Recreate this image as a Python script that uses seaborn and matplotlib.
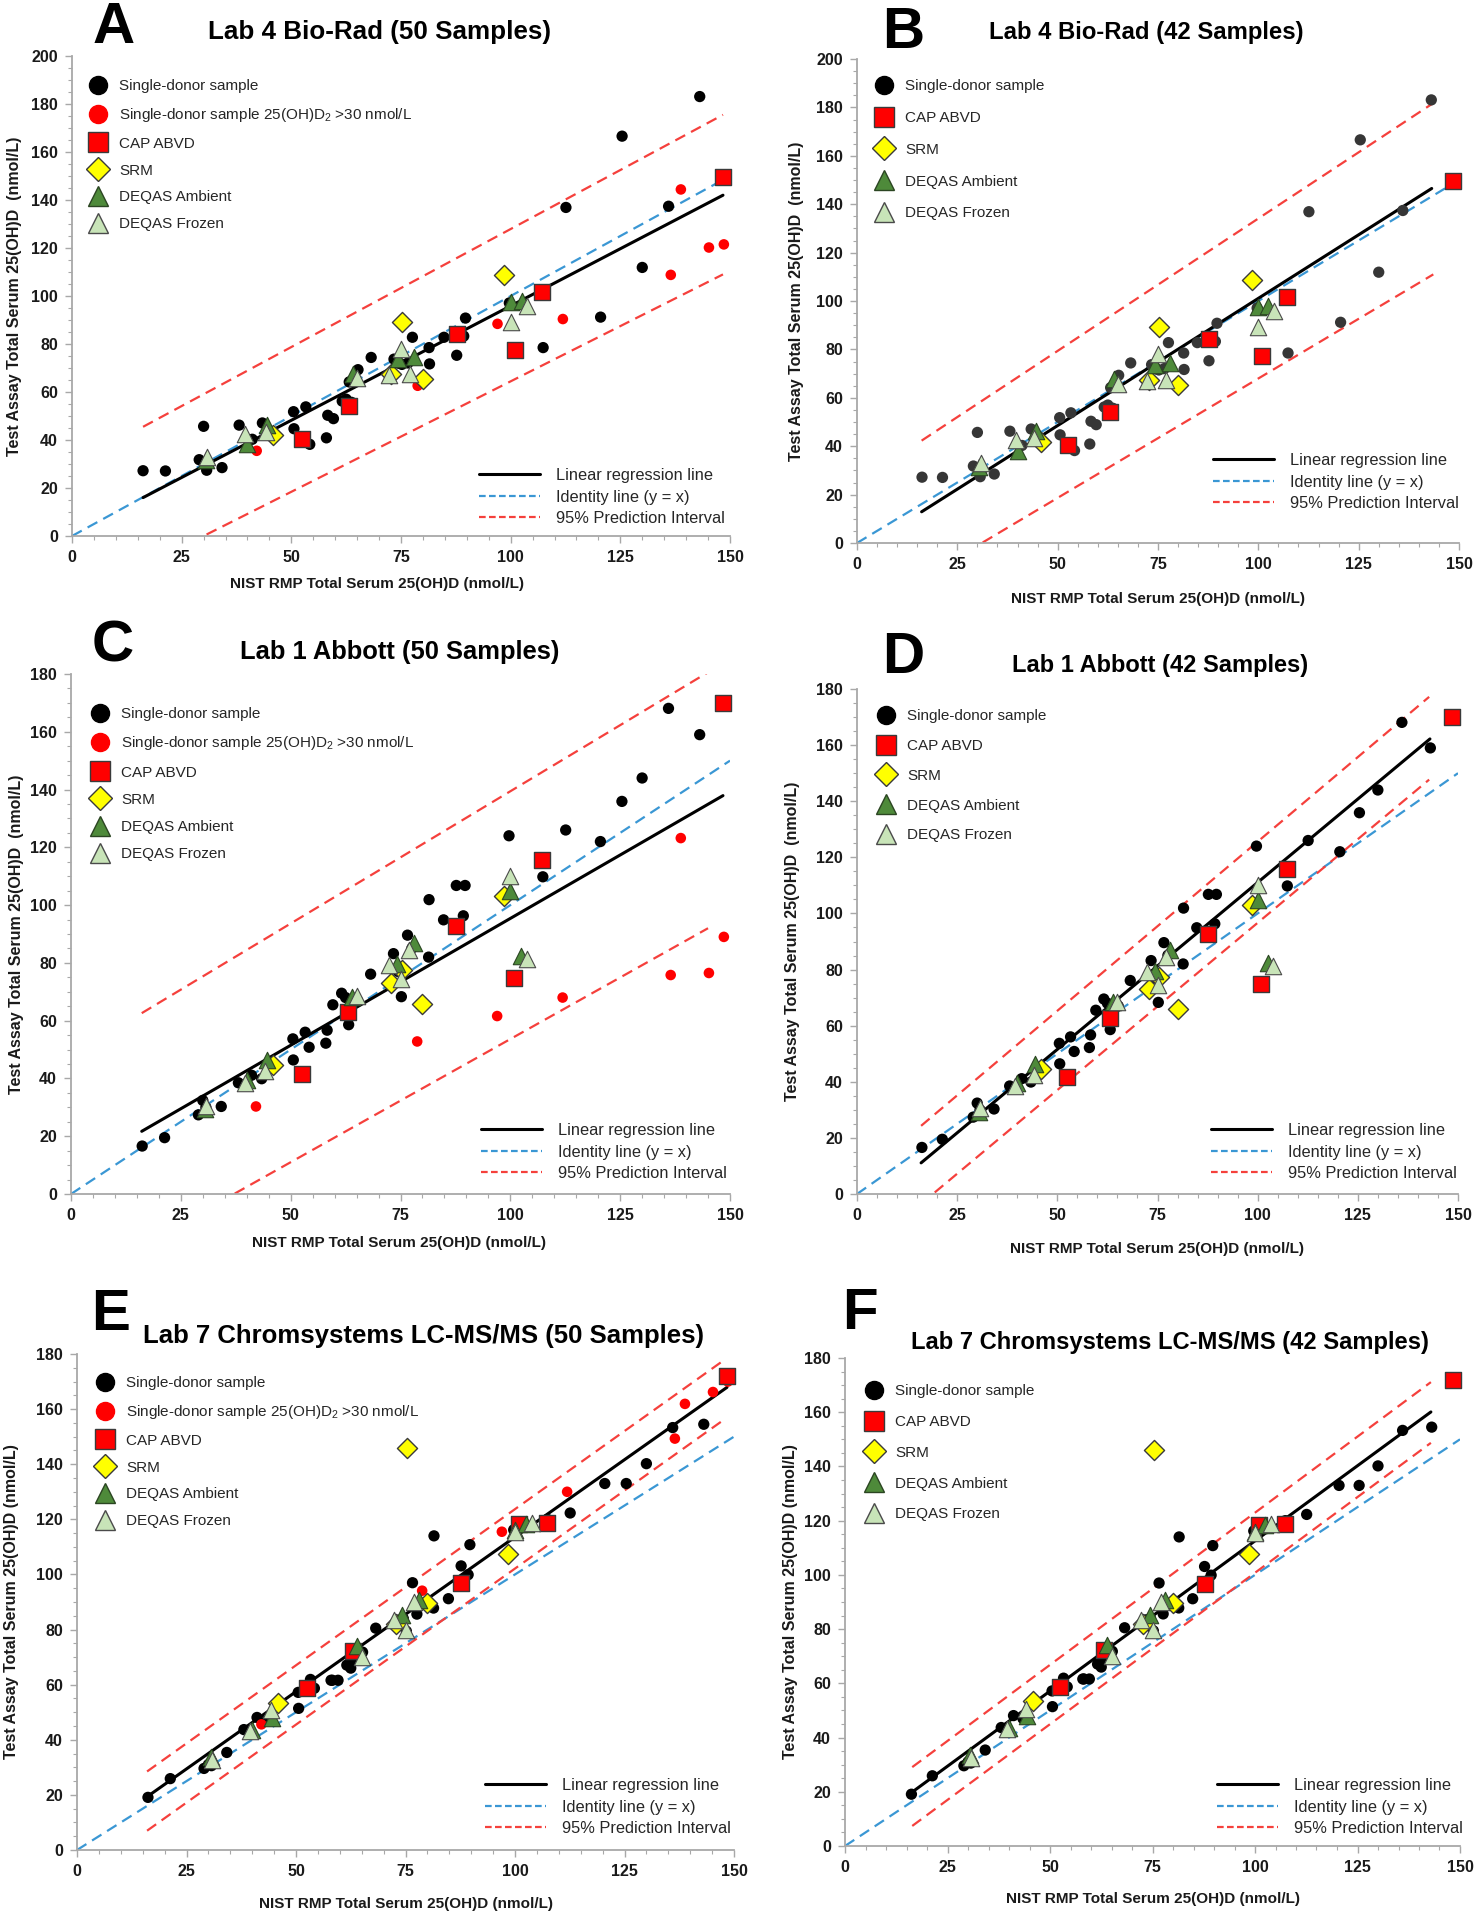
import matplotlib
matplotlib.use("Agg")
import matplotlib.pyplot as plt
import seaborn as sns
from matplotlib.lines import Line2D
from matplotlib.ticker import MultipleLocator

sns.set_theme(style="ticks")
plt.rcParams["font.family"] = ["Liberation Sans", "DejaVu Sans"]
plt.rcParams["mathtext.fontset"] = "custom"
plt.rcParams["mathtext.rm"] = "Liberation Sans"
plt.rcParams["mathtext.default"] = "rm"
NARROW = ["Liberation Sans Narrow", "Liberation Sans", "DejaVu Sans"]

# ---------------- data ----------------
donor_x = [16.2, 21.3, 29.0, 30.0, 30.7, 34.2, 38.1, 41.1, 43.4, 50.5,
           50.6, 53.3, 54.2, 58.0, 58.3, 59.6, 61.6, 62.5, 63.2, 63.7,
           65.2, 68.2, 73.4, 74.5, 75.2, 76.6, 77.6, 81.4, 81.5, 84.8,
           87.7, 89.3, 89.7, 99.7, 107.4, 112.6, 120.5, 125.4, 130.0, 136.0,
           143.1]
donor_y_biorad = [27.2, 27.1, 31.8, 45.7, 27.4, 28.5, 46.2, 40.3, 47.1, 51.8,
                  44.7, 53.8, 38.2, 40.9, 50.3, 48.9, 56.2, 57.0, 64.2, 55.7,
                  69.3, 74.4, 73.7, 72.0, 71.5, 72.1, 82.8, 78.5, 71.7, 82.8,
                  75.3, 83.3, 90.8, 97.1, 78.5, 136.9, 91.2, 166.6, 111.9, 137.4,
                  183.1]
donor_y_abbott = [16.6, 19.5, 27.4, 32.4, 30.0, 30.3, 38.5, 41.1, 39.9, 53.7,
                  46.4, 56.0, 50.8, 52.2, 56.7, 65.5, 69.5, 68.0, 58.6, 62.6,
                  67.0, 76.1, 83.2, 77.0, 68.3, 89.6, 85.1, 82.0, 101.9, 94.9,
                  106.8, 96.3, 106.8, 124.0, 109.8, 126.0, 122.0, 135.9, 144.0, 168.1,
                  159.0]
donor_y_chrom = [19.1, 25.9, 29.6, 31.0, 30.6, 35.4, 43.7, 48.1, 47.0, 57.2,
                 51.4, 61.9, 58.7, 61.6, 61.6, 61.6, 67.1, 66.0, 69.2, 69.5,
                 71.8, 80.5, 83.4, 84.0, 79.4, 97.0, 85.6, 87.8, 114.0, 91.2,
                 103.1, 99.9, 110.8, 116.2, 120.0, 122.3, 133.0, 133.0, 140.2, 153.3,
                 154.5]

d2_x = [42.1, 78.8, 97.0, 111.9, 136.5, 138.8, 145.2, 148.6]
d2_y_biorad = [35.5, 62.6, 88.4, 90.4, 108.8, 144.4, 120.2, 121.5]
d2_y_abbott = [30.3, 52.8, 61.6, 68.0, 75.8, 123.2, 76.5, 89.0]
d2_y_chrom = [45.6, 94.1, 115.5, 130.0, 149.3, 161.9, 166.2, 170.0]

cap_x = [52.5, 63.1, 87.7, 100.9, 107.2, 148.4]
cap_y_biorad = [40.3, 54.1, 84.1, 77.4, 101.6, 149.7]
cap_y_abbott = [41.6, 62.9, 92.7, 74.8, 115.7, 169.9]
cap_y_chrom = [58.7, 72.2, 96.8, 118.4, 118.7, 172.0]

srm_x = [45.9, 72.8, 75.3, 80.0, 98.5]
srm_y_biorad = [41.9, 67.4, 89.2, 65.3, 108.8]
srm_y_abbott = [44.6, 72.9, 77.4, 65.9, 103.1]
srm_y_chrom = [53.4, 82.0, 146.0, 89.7, 107.6]

amb_x = [30.5, 40.0, 44.5, 64.0, 74.3, 78.0, 100.0, 102.5]
amb_y_biorad = [31.5, 38.2, 46.2, 67.7, 73.7, 74.5, 97.6, 97.9]
amb_y_abbott = [29.3, 39.6, 46.5, 68.3, 79.6, 87.0, 104.9, 82.4]
amb_y_chrom = [33.6, 43.4, 48.0, 74.0, 85.2, 90.7, 116.0, 118.4]

frz_x = [30.8, 39.5, 44.2, 65.0, 72.3, 75.0, 77.0, 100.0, 103.8]
frz_y_biorad = [33.0, 42.4, 43.5, 65.8, 67.0, 77.9, 67.4, 89.2, 96.0]
frz_y_abbott = [30.5, 38.5, 42.5, 68.6, 79.1, 74.4, 84.4, 110.0, 81.2]
frz_y_chrom = [32.5, 43.2, 50.7, 70.0, 83.4, 79.8, 90.0, 115.5, 118.7]

# regression lines and 95% prediction intervals (end points)
fit_x_A, fit_y_A = [16.2, 148.4], [16.0, 142.0]
pi_x_A, pi_hi_A, pi_lo_A = [16.2, 148.4], [45.5, 175.5], [-12.7, 109.0]
fit_x_B, fit_y_B = [16.1, 143.2], [12.9, 146.5]
pi_x_B, pi_hi_B, pi_lo_B = [16.1, 143.6], [42.3, 181.8], [-14.8, 111.0]
fit_x_C, fit_y_C = [16.1, 148.4], [21.7, 137.9]
pi_x_C, pi_hi_C, pi_lo_C = [16.1, 145.0], [62.6, 180.6], [-17.9, 92.0]
fit_x_D, fit_y_D = [16.0, 143.0], [11.1, 162.2]
pi_x_D, pi_hi_D, pi_lo_D = [16.0, 142.8], [24.3, 177.2], [-3.5, 147.7]
fit_x_E, fit_y_E = [15.8, 148.4], [19.1, 167.9]
pi_x_E, pi_hi_E, pi_lo_E = [16.0, 148.0], [28.5, 178.1], [7.0, 156.5]
fit_x_F, fit_y_F = [16.4, 142.9], [19.9, 160.1]
pi_x_F, pi_hi_F, pi_lo_F = [16.4, 142.9], [29.1, 171.1], [7.4, 148.7]
ident_end = [148.5, 150.0, 150.0, 150.0, 150.0, 150.0]

letters = ["A", "B", "C", "D", "E", "F"]
titles = ["Lab 4 Bio-Rad (50 Samples)", "Lab 4 Bio-Rad (42 Samples)",
          "Lab 1 Abbott (50 Samples)", "Lab 1 Abbott (42 Samples)",
          "Lab 7 Chromsystems LC-MS/MS (50 Samples)",
          "Lab 7 Chromsystems LC-MS/MS (42 Samples)"]
ylabels = ["Test Assay Total Serum 25(OH)D  (nmol/L)"] * 4 + \
          ["Test Assay Total Serum 25(OH)D (nmol/L)"] * 2
xlabel = "NIST RMP Total Serum 25(OH)D (nmol/L)"
y_max = [200, 200, 180, 180, 180, 180]
legend_labels = ["Single-donor sample", r"Single-donor sample 25(OH)D$_2$ >30 nmol/L",
                 "CAP ABVD", "SRM", "DEQAS Ambient", "DEQAS Frozen"]
line_labels = ["Linear regression line", "Identity line (y = x)", "95% Prediction Interval"]

# ---------------- layout ----------------
W, H = 1480, 1920
fig = plt.figure(figsize=(W / 100, H / 100), dpi=100)

# axes rectangles in pixels: left, right, top, bottom
rects = [(72, 730, 56, 536), (857, 1459, 59, 543),
         (71, 730, 674, 1194), (857, 1458, 689, 1194),
         (77, 734, 1354, 1850), (845, 1460, 1358, 1846)]
letter_pos = [(114, 28), (903, 33), (113, 647), (903, 658), (111, 1315), (860, 1314)]
title_pos = [(380, 32), (1146, 33), (400, 652), (1160, 665), (423, 1336), (1170, 1342)]
title_fs = [18.7, 17.2, 18.4, 17.0, 18.5, 17.1]
xlab_y = [584, 599, 1243, 1249, 1904, 1899]
xlab_x = [0.464, 0.5, 0.497, 0.5, 0.5, 0.5]
ylab_x = [15, 797, 17, 793, 12, 790]
leg_first = [(26, 31), (27, 28), (29, 41), (29, 28), (28, 30), (29, 34)]
leg_space = [28, 33, 28.4, 31, 28, 32]
lineleg_right = [725, 1459, 727, 1457, 731, 1463]
lineleg_last = [518, 503, 1173, 1173, 1828, 1828]

C_RED = "#ff0000"
C_PI = "#f5403c"
C_ID = "#3a97d4"

panels = [
    (donor_y_biorad, d2_y_biorad, cap_y_biorad, srm_y_biorad, amb_y_biorad, frz_y_biorad,
     fit_x_A, fit_y_A, pi_x_A, pi_hi_A, pi_lo_A),
    (donor_y_biorad, None, cap_y_biorad, srm_y_biorad, amb_y_biorad, frz_y_biorad,
     fit_x_B, fit_y_B, pi_x_B, pi_hi_B, pi_lo_B),
    (donor_y_abbott, d2_y_abbott, cap_y_abbott, srm_y_abbott, amb_y_abbott, frz_y_abbott,
     fit_x_C, fit_y_C, pi_x_C, pi_hi_C, pi_lo_C),
    (donor_y_abbott, None, cap_y_abbott, srm_y_abbott, amb_y_abbott, frz_y_abbott,
     fit_x_D, fit_y_D, pi_x_D, pi_hi_D, pi_lo_D),
    (donor_y_chrom, d2_y_chrom, cap_y_chrom, srm_y_chrom, amb_y_chrom, frz_y_chrom,
     fit_x_E, fit_y_E, pi_x_E, pi_hi_E, pi_lo_E),
    (donor_y_chrom, None, cap_y_chrom, srm_y_chrom, amb_y_chrom, frz_y_chrom,
     fit_x_F, fit_y_F, pi_x_F, pi_hi_F, pi_lo_F),
]

for i, (dy, ry, cy, sy, ay, fy, fx, fity, px, phi, plo) in enumerate(panels):
    l, r, t, b = rects[i]
    ax = fig.add_axes([l / W, 1 - b / H, (r - l) / W, (b - t) / H])
    aw, ah = r - l, b - t

    # lines
    ie = ident_end[i]
    ax.plot([0, ie], [0, ie], color=C_ID, lw=1.6, ls=(0, (5, 3)), zorder=2)
    ax.plot(px, phi, color=C_PI, lw=1.6, ls=(0, (5, 3)), zorder=2)
    ax.plot(px, plo, color=C_PI, lw=1.6, ls=(0, (5, 3)), zorder=2)
    ax.plot(fx, fity, color="black", lw=2.2, zorder=3)

    donor_col = "#363636" if i == 1 else "black"
    sns.scatterplot(x=donor_x, y=dy, ax=ax, color=donor_col, s=66, edgecolor="none",
                    zorder=4, clip_on=False, legend=False)
    if ry is not None:
        sns.scatterplot(x=d2_x, y=ry, ax=ax, color=C_RED, s=58, edgecolor="none",
                        zorder=4, clip_on=False, legend=False)
    sns.scatterplot(x=cap_x, y=cy, ax=ax, color=C_RED, marker="s", s=135,
                    edgecolor="#3a3a3a", linewidth=1.0, zorder=5, clip_on=False, legend=False)
    sns.scatterplot(x=srm_x, y=sy, ax=ax, color="#ffff00", marker="D", s=105,
                    edgecolor="#3a3a3a", linewidth=1.0, zorder=5, clip_on=False, legend=False)
    sns.scatterplot(x=amb_x, y=ay, ax=ax, color="#4e8a3a", marker="^", s=140,
                    edgecolor="#2b4522", linewidth=0.8, zorder=6, clip_on=False, legend=False)
    sns.scatterplot(x=frz_x, y=fy, ax=ax, color="#c8e4b8", marker="^", s=140,
                    edgecolor="#4a4a4a", linewidth=0.8, zorder=6, clip_on=False, legend=False)

    # axes styling
    ax.set_xlim(0, 150)
    ax.set_ylim(0, y_max[i])
    ax.xaxis.set_major_locator(MultipleLocator(25))
    ax.xaxis.set_minor_locator(MultipleLocator(5))
    ax.yaxis.set_major_locator(MultipleLocator(20))
    ax.yaxis.set_minor_locator(MultipleLocator(5))
    sns.despine(ax=ax)
    for sp in ("left", "bottom"):
        ax.spines[sp].set_color("#a8a8a8")
        ax.spines[sp].set_linewidth(1.3)
    ax.tick_params(which="major", length=5, width=1.0, color="#a8a8a8", direction="out",
                   labelsize=11.5, pad=5, labelcolor="#1a1a1a")
    ax.tick_params(which="minor", length=3, width=0.8, color="#a8a8a8", direction="out")
    for lbl in ax.get_xticklabels() + ax.get_yticklabels():
        lbl.set_fontweight("bold")
        lbl.set_family(NARROW)

    ax.set_xlabel(xlabel, fontsize=11, fontweight="bold", color="#1a1a1a")
    ax.xaxis.label.set_va("center")
    ax.xaxis.set_label_coords(xlab_x[i], -(xlab_y[i] - b) / ah)
    ax.set_ylabel(ylabels[i], fontsize=11.5, fontweight="bold", color="#1a1a1a")
    ax.yaxis.label.set_va("center")
    ax.yaxis.set_label_coords(-(l - ylab_x[i]) / aw, 0.5)

    # marker legend
    handles = [
        Line2D([0], [0], marker="o", ls="None", markersize=13, mfc="black", mec="black"),
        Line2D([0], [0], marker="o", ls="None", markersize=13, mfc=C_RED, mec=C_RED),
        Line2D([0], [0], marker="s", ls="None", markersize=14, mfc=C_RED, mec="#3a3a3a", mew=1),
        Line2D([0], [0], marker="D", ls="None", markersize=12, mfc="#ffff00", mec="#3a3a3a", mew=1),
        Line2D([0], [0], marker="^", ls="None", markersize=15, mfc="#4e8a3a", mec="#2b4522", mew=1),
        Line2D([0], [0], marker="^", ls="None", markersize=15, mfc="#c8e4b8", mec="#4a4a4a", mew=1),
    ]
    labels = list(legend_labels)
    if ry is None:
        handles.pop(1)
        labels.pop(1)
    fs = 11
    fs_px = fs * 100 / 72
    mx, my = leg_first[i]
    sp = leg_space[i]
    leg1 = ax.legend(handles, labels, loc="upper left",
                     bbox_to_anchor=((mx - 0.6 * fs_px) / aw, 1 - (my - 0.5 * fs_px) / ah),
                     frameon=False, fontsize=fs, handlelength=1.2, handleheight=0.7,
                     handletextpad=0.8, labelspacing=(sp - fs_px) / fs_px,
                     borderpad=0, borderaxespad=0, labelcolor="#262626")
    ax.add_artist(leg1)

    # line legend
    lh = [Line2D([0], [0], color="black", lw=2.2),
          Line2D([0], [0], color=C_ID, lw=1.6, ls=(0, (3, 1.5))),
          Line2D([0], [0], color=C_PI, lw=1.6, ls=(0, (3, 1.5)))]
    fs2 = 11.8
    fs2_px = fs2 * 100 / 72
    ax.legend(lh, line_labels, loc="lower right",
              bbox_to_anchor=((lineleg_right[i] - l) / aw, (b - lineleg_last[i] - 0.5 * fs2_px) / ah),
              frameon=False, fontsize=fs2, handlelength=3.7, handletextpad=1.0,
              labelspacing=(23 - fs2_px) / fs2_px, borderpad=0, borderaxespad=0,
              labelcolor="#262626")

    # letter and title
    lx, lyy = letter_pos[i]
    fig.text(lx / W, 1 - lyy / H, letters[i], fontsize=42, fontweight="bold",
             ha="center", va="center", color="black")
    tx, ty = title_pos[i]
    fig.text(tx / W, 1 - ty / H, titles[i], fontsize=title_fs[i], fontweight="bold",
             ha="center", va="center", color="black", family=NARROW)

fig.savefig("out.png", dpi=100, facecolor="white")
